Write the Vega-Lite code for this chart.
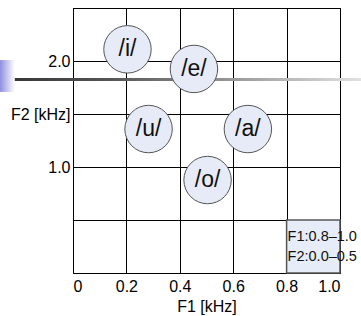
{
  "$schema": "https://vega.github.io/schema/vega-lite/v6.json",
  "width": 267,
  "height": 265,
  "autosize": {"type": "none"},
  "padding": {"left": 73, "top": 8, "right": 21, "bottom": 43},
  "background": "white",
  "config": {
    "view": {"stroke": "black", "strokeWidth": 1},
    "font": "Liberation Sans",
    "axis": {"labelFont": "Liberation Sans", "titleFont": "Liberation Sans"}
  },
  "datasets": {
    "bar": [{"x": -0.274, "x2": 1.08, "y": 1.84, "y2": 1.811}],
    "block": [{"x": -0.274, "x2": -0.218, "y": 2.009, "y2": 1.708}],
    "region": [{"x": 0.8, "x2": 1.0, "y": 0.0, "y2": 0.5}],
    "vowels": [
      {"vowel": "/i/", "F1": 0.204, "F2": 2.11},
      {"vowel": "/e/", "F1": 0.453, "F2": 1.925},
      {"vowel": "/u/", "F1": 0.283, "F2": 1.358},
      {"vowel": "/a/", "F1": 0.655, "F2": 1.358},
      {"vowel": "/o/", "F1": 0.504, "F2": 0.877}
    ],
    "notes": [
      {"label": "F1:0.8–1.0", "x": 0.8, "y": 0.338},
      {"label": "F2:0.0–0.5", "x": 0.8, "y": 0.15}
    ]
  },
  "layer": [
    {
      "data": {"name": "bar"},
      "mark": {
        "type": "rect",
        "clip": false,
        "fill": {
          "gradient": "linear", "x1": 0, "x2": 1, "y1": 0, "y2": 0,
          "stops": [
            {"offset": 0, "color": "#333333"},
            {"offset": 0.3, "color": "#555555"},
            {"offset": 0.65, "color": "#9a9a9a"},
            {"offset": 1, "color": "#e2e2e2"}
          ]
        }
      },
      "encoding": {
        "x": {"field": "x", "type": "quantitative", "scale": {"domain": [0, 1], "nice": false, "zero": false},
          "axis": {"values": [0, 0.2, 0.4, 0.6, 0.8, 1.0], "grid": true, "gridColor": "black", "gridOpacity": 1, "gridWidth": 1,
            "ticks": false, "domain": false, "labelFontSize": 16, "labelColor": "black", "labelPadding": 5,
            "labelExpr": "datum.value == 0 ? '0' : format(datum.value, '.1f')",
            "title": "F1 [kHz]", "titleFontSize": 16, "titleFontWeight": "normal", "titleColor": "black", "titlePadding": 4}},
        "x2": {"field": "x2"},
        "y": {"field": "y", "type": "quantitative", "scale": {"domain": [0, 2.5], "nice": false, "zero": false},
          "axis": {"values": [0, 0.5, 1.0, 1.5, 2.0, 2.5], "grid": true, "gridColor": "black", "gridOpacity": 1, "gridWidth": 1,
            "ticks": false, "domain": false, "labelFontSize": 16, "labelColor": "black", "labelPadding": 3,
            "labelExpr": "datum.value == 2 ? '2.0' : datum.value == 1 ? '1.0' : datum.value == 1.5 ? 'F2 [kHz]' : ''",
            "title": null}},
        "y2": {"field": "y2"}
      }
    },
    {
      "data": {"name": "block"},
      "mark": {
        "type": "rect",
        "clip": false,
        "fill": {
          "gradient": "linear", "x1": 0, "x2": 1, "y1": 0, "y2": 0,
          "stops": [
            {"offset": 0, "color": "#8e8ee0"},
            {"offset": 1, "color": "#ffffff"}
          ]
        }
      },
      "encoding": {
        "x": {"field": "x", "type": "quantitative"},
        "x2": {"field": "x2"},
        "y": {"field": "y", "type": "quantitative"},
        "y2": {"field": "y2"}
      }
    },
    {
      "data": {"name": "region"},
      "mark": {"type": "rect", "fill": "#e6ecf8", "stroke": "#555555", "strokeWidth": 1.5},
      "encoding": {
        "x": {"field": "x", "type": "quantitative"},
        "x2": {"field": "x2"},
        "y": {"field": "y", "type": "quantitative"},
        "y2": {"field": "y2"}
      }
    },
    {
      "data": {"name": "vowels"},
      "mark": {"type": "point", "shape": "circle", "filled": true, "fill": "#e6ebf7", "fillOpacity": 1, "stroke": "#555555", "strokeWidth": 1, "size": 2250, "opacity": 1},
      "encoding": {
        "x": {"field": "F1", "type": "quantitative"},
        "y": {"field": "F2", "type": "quantitative"}
      }
    },
    {
      "data": {"name": "vowels"},
      "mark": {"type": "text", "fontSize": 23, "font": "Liberation Sans", "color": "#111111", "align": "center", "baseline": "middle"},
      "encoding": {
        "x": {"field": "F1", "type": "quantitative"},
        "y": {"field": "F2", "type": "quantitative"},
        "text": {"field": "vowel"}
      }
    },
    {
      "data": {"name": "notes"},
      "mark": {"type": "text", "fontSize": 14.5, "font": "Liberation Sans", "color": "#111111", "align": "left", "baseline": "middle", "dx": 1, "clip": false},
      "encoding": {
        "x": {"field": "x", "type": "quantitative"},
        "y": {"field": "y", "type": "quantitative"},
        "text": {"field": "label"}
      }
    }
  ]
}
